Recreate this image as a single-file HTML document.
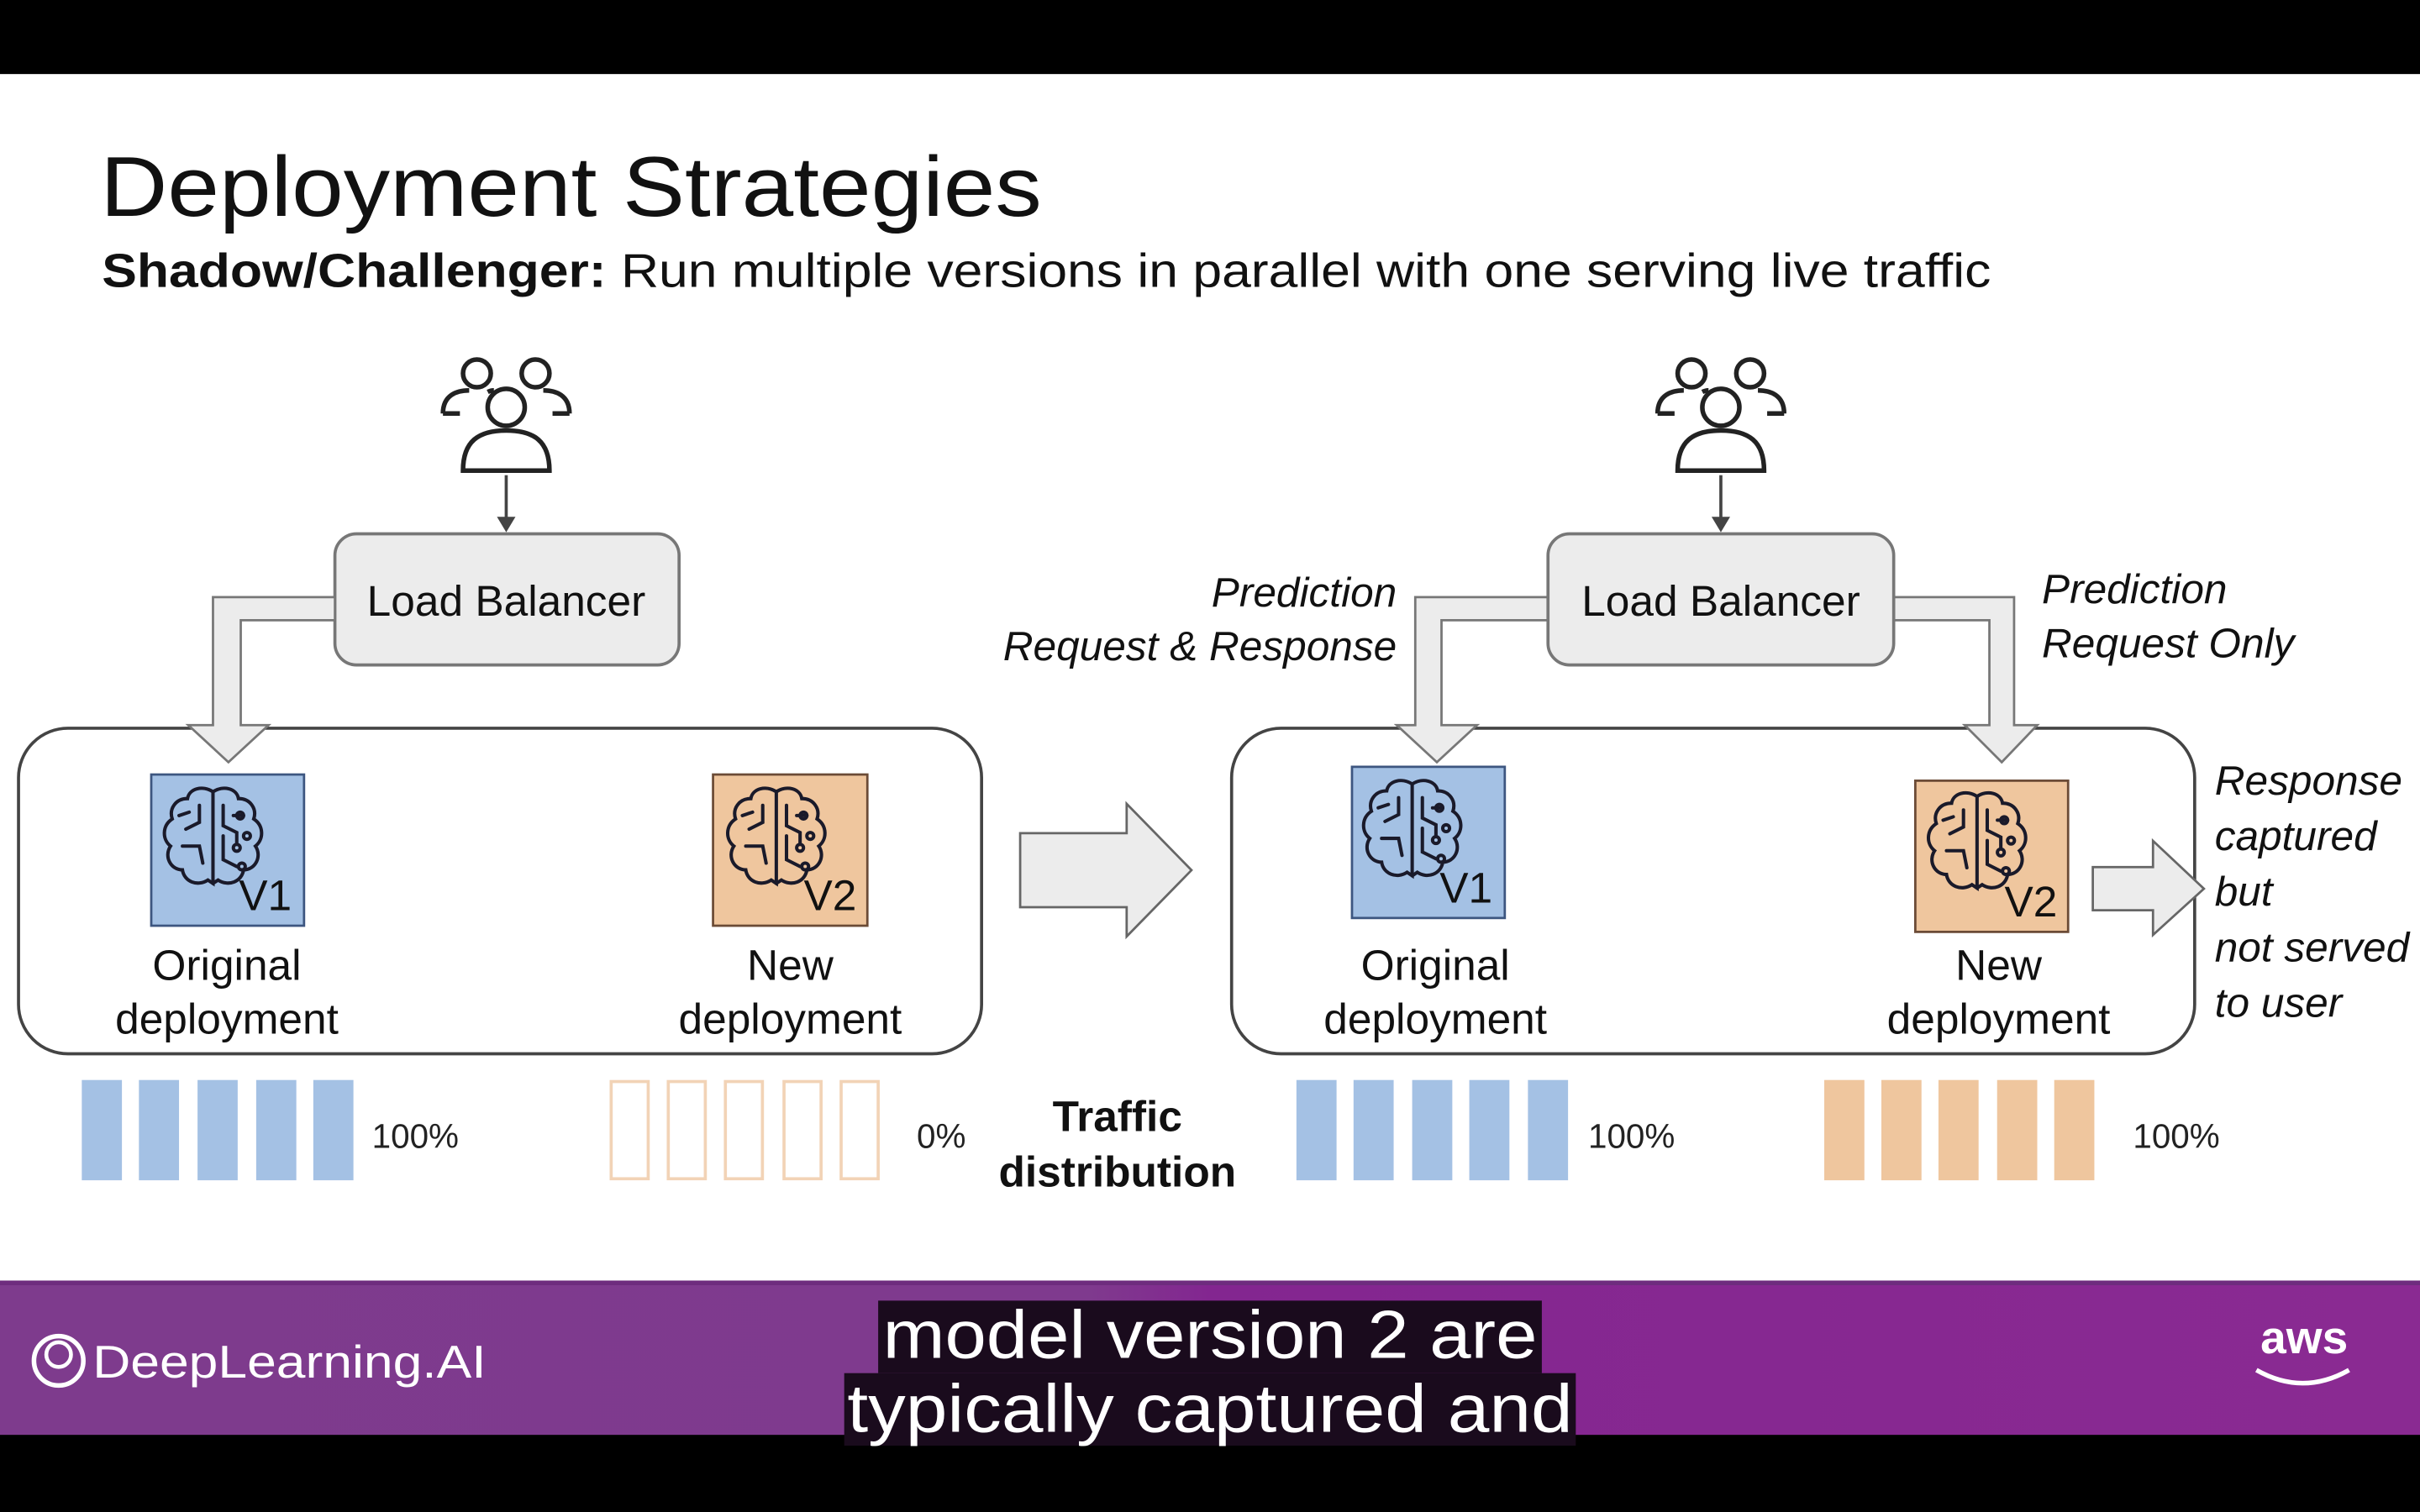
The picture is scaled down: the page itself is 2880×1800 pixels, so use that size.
<!DOCTYPE html>
<html><head><meta charset="utf-8"><style>
html,body{margin:0;padding:0;background:#000;}
svg{display:block;}
text{font-family:"Liberation Sans",sans-serif;}
</style></head><body>
<svg width="2880" height="1800" viewBox="0 0 1568 980" xmlns="http://www.w3.org/2000/svg">
<defs>
<linearGradient id="pg" x1="0" x2="1" y1="0" y2="0">
<stop offset="0" stop-color="#7e3b8d"/><stop offset="0.45" stop-color="#7f3a8e"/><stop offset="0.5" stop-color="#832690"/><stop offset="1" stop-color="#8a2a92"/>
</linearGradient>
<g id="brain" fill="none" stroke="#1a1a2a" stroke-width="2" stroke-linecap="round">
<path d="M0,-28 C-6,-32 -14,-30 -15,-24 C-22,-24 -26,-18 -24,-12 C-30,-8 -30,0 -25,4 C-29,10 -25,18 -18,18 C-17,25 -9,28 -3,24 L0,26 Z"/>
<path d="M0,-28 C6,-32 14,-30 15,-24 C22,-24 26,-18 24,-12 C30,-8 30,0 25,4 C29,10 25,18 18,18 C17,25 9,28 3,24 L0,26"/>
<path d="M-8,-20 L-8,-10 L-16,-6 M-18,4 L-8,4 L-6,14 M-14,-16 L-20,-14"/>
<path d="M6,-20 L6,-8 L14,-4 L14,2 M6,-2 L6,12 L14,16 M18,-14 L12,-14"/>
<circle cx="16" cy="-14" r="2"/><circle cx="14" cy="5" r="2"/><circle cx="17" cy="16" r="2"/><circle cx="20" cy="-2" r="2"/>
</g>
<g id="people" fill="none" stroke="#222" stroke-width="3">
<circle cx="-19" cy="-26" r="9"/><circle cx="19" cy="-26" r="9"/>
<path d="M-41,0 C-41,-12 -32,-15 -24,-15 M-12,-14 C-10,-15 -8,-15 -8,-15"/>
<path d="M41,0 C41,-12 32,-15 24,-15 M12,-14"/>
<path d="M-41,0 L-30,0 M41,0 L30,0"/>
<circle cx="0" cy="-4" r="12" fill="#fff"/>
<path d="M-28,37 C-28,18 -18,11 0,11 C18,11 28,18 28,37 Z" fill="#fff"/>
</g>
</defs>
<rect x="0" y="0" width="1568" height="980" fill="#000"/>
<rect x="0" y="48" width="1568" height="782" fill="#fff"/>
<rect x="0" y="830" width="1568" height="100" fill="url(#pg)"/>
<rect x="0" y="830" width="1568" height="3" fill="#6e2c7e"/>

<text x="65" y="140" font-size="55" fill="#111" textLength="610" lengthAdjust="spacingAndGlyphs">Deployment Strategies</text>
<text x="66" y="186" font-size="31" fill="#111" textLength="1224" lengthAdjust="spacingAndGlyphs"><tspan font-weight="bold">Shadow/Challenger:</tspan> Run multiple versions in parallel with one serving live traffic</text>

<!-- LEFT -->
<use href="#people" x="328" y="268"/>
<line x1="328" y1="308" x2="328" y2="336" stroke="#444" stroke-width="2"/>
<path d="M322,335 L334,335 L328,345 Z" fill="#444"/>
<rect x="217" y="346" width="223" height="85" rx="14" fill="#ececec" stroke="#777" stroke-width="2"/>
<text x="328" y="399" font-size="28" text-anchor="middle" fill="#111">Load Balancer</text>
<rect x="12" y="472" width="624" height="211" rx="32" fill="none" stroke="#444" stroke-width="2"/>
<path d="M217,387 L138,387 L138,470 L122,470 L148,494 L174,470 L156,470 L156,402 L217,402 Z" fill="#ececec" stroke="#777" stroke-width="1.5"/>
<rect x="98" y="502" width="99" height="98" fill="#a4c1e4" stroke="#3d5680" stroke-width="1.5"/>
<use href="#brain" transform="translate(138,544) scale(1.1)"/>
<text x="189" y="590" font-size="28" text-anchor="end" fill="#111">V1</text>
<rect x="462" y="502" width="100" height="98" fill="#efc69e" stroke="#6b4b36" stroke-width="1.5"/>
<use href="#brain" transform="translate(503,544) scale(1.1)"/>
<text x="555" y="590" font-size="28" text-anchor="end" fill="#111">V2</text>
<text x="147" y="635" font-size="28" text-anchor="middle" fill="#111">Original</text>
<text x="147" y="670" font-size="28" text-anchor="middle" fill="#111">deployment</text>
<text x="512" y="635" font-size="28" text-anchor="middle" fill="#111">New</text>
<text x="512" y="670" font-size="28" text-anchor="middle" fill="#111">deployment</text>
<g fill="#a4c1e4"><rect x="53" y="700" width="26" height="65"/><rect x="90" y="700" width="26" height="65"/><rect x="128" y="700" width="26" height="65"/><rect x="166" y="700" width="26" height="65"/><rect x="203" y="700" width="26" height="65"/></g>
<text x="241" y="744" font-size="22" fill="#222">100%</text>
<g fill="none" stroke="#f2d3b6" stroke-width="2"><rect x="396" y="701" width="24" height="63"/><rect x="433" y="701" width="24" height="63"/><rect x="470" y="701" width="24" height="63"/><rect x="508" y="701" width="24" height="63"/><rect x="545" y="701" width="24" height="63"/></g>
<text x="594" y="744" font-size="22" fill="#222">0%</text>
<text x="724" y="733" font-size="28" font-weight="bold" text-anchor="middle" fill="#111">Traffic</text>
<text x="724" y="769" font-size="28" font-weight="bold" text-anchor="middle" fill="#111">distribution</text>

<path d="M661,540 L730,540 L730,521 L772,564 L730,607 L730,588 L661,588 Z" fill="#ececec" stroke="#666" stroke-width="1.5"/>

<!-- RIGHT -->
<use href="#people" x="1115" y="268"/>
<line x1="1115" y1="308" x2="1115" y2="336" stroke="#444" stroke-width="2"/>
<path d="M1109,335 L1121,335 L1115,345 Z" fill="#444"/>
<rect x="798" y="472" width="624" height="211" rx="32" fill="none" stroke="#444" stroke-width="2"/>
<path d="M1003,387 L917,387 L917,470 L905,470 L931,494 L957,470 L934,470 L934,402 L1003,402 Z" fill="#ececec" stroke="#777" stroke-width="1.5"/>
<path d="M1227,387 L1305,387 L1305,470 L1320,470 L1297,494 L1273,470 L1289,470 L1289,402 L1227,402 Z" fill="#ececec" stroke="#777" stroke-width="1.5"/>
<rect x="1003" y="346" width="224" height="85" rx="14" fill="#ececec" stroke="#777" stroke-width="2"/>
<text x="1115" y="399" font-size="28" text-anchor="middle" fill="#111">Load Balancer</text>
<g font-style="italic" font-size="27" fill="#111">
<text x="905" y="393" text-anchor="end">Prediction</text>
<text x="905" y="428" text-anchor="end">Request &amp; Response</text>
<text x="1323" y="391">Prediction</text>
<text x="1323" y="426">Request Only</text>
<text x="1435" y="515">Response</text>
<text x="1435" y="551">captured</text>
<text x="1435" y="587">but</text>
<text x="1435" y="623">not served</text>
<text x="1435" y="659">to user</text>
</g>
<rect x="876" y="497" width="99" height="98" fill="#a4c1e4" stroke="#3d5680" stroke-width="1.5"/>
<use href="#brain" transform="translate(915,539) scale(1.1)"/>
<text x="967" y="585" font-size="28" text-anchor="end" fill="#111">V1</text>
<rect x="1241" y="506" width="99" height="98" fill="#efc69e" stroke="#6b4b36" stroke-width="1.5"/>
<use href="#brain" transform="translate(1281,547) scale(1.1)"/>
<text x="1333" y="594" font-size="28" text-anchor="end" fill="#111">V2</text>
<path d="M1356,562 L1395,562 L1395,545 L1428,576 L1395,606 L1395,590 L1356,590 Z" fill="#ececec" stroke="#666" stroke-width="1.5"/>
<text x="930" y="635" font-size="28" text-anchor="middle" fill="#111">Original</text>
<text x="930" y="670" font-size="28" text-anchor="middle" fill="#111">deployment</text>
<text x="1295" y="635" font-size="28" text-anchor="middle" fill="#111">New</text>
<text x="1295" y="670" font-size="28" text-anchor="middle" fill="#111">deployment</text>
<g fill="#a4c1e4"><rect x="840" y="700" width="26" height="65"/><rect x="877" y="700" width="26" height="65"/><rect x="915" y="700" width="26" height="65"/><rect x="952" y="700" width="26" height="65"/><rect x="990" y="700" width="26" height="65"/></g>
<text x="1029" y="744" font-size="22" fill="#222">100%</text>
<g fill="#efc69e"><rect x="1182" y="700" width="26" height="65"/><rect x="1219" y="700" width="26" height="65"/><rect x="1256" y="700" width="26" height="65"/><rect x="1294" y="700" width="26" height="65"/><rect x="1331" y="700" width="26" height="65"/></g>
<text x="1382" y="744" font-size="22" fill="#222">100%</text>

<!-- footer -->
<circle cx="38" cy="882" r="16" fill="none" stroke="#fff" stroke-width="3"/>
<circle cx="38" cy="878" r="8" fill="none" stroke="#fff" stroke-width="2.5"/>
<text x="60" y="893" font-size="30" fill="#fff" textLength="255" lengthAdjust="spacingAndGlyphs">DeepLearning.AI</text>
<text x="1493" y="877" font-size="30" font-weight="bold" text-anchor="middle" fill="#fff">aws</text>
<path d="M1462,888 Q1492,905 1522,888" fill="none" stroke="#fff" stroke-width="3"/>
<rect x="569" y="843" width="430" height="47" fill="#1a0b1d"/>
<rect x="547" y="890" width="474" height="47" fill="#1a0b1d"/>
<text x="784" y="880" font-size="44" text-anchor="middle" fill="#fff" textLength="424" lengthAdjust="spacingAndGlyphs">model version 2 are</text>
<text x="784" y="928" font-size="44" text-anchor="middle" fill="#fff" textLength="470" lengthAdjust="spacingAndGlyphs">typically captured and</text>
</svg>
</body></html>
